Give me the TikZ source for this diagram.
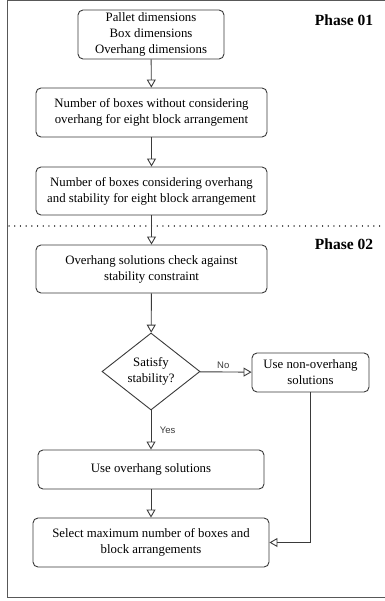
\documentclass[tikz,border=0pt]{standalone}
\usepackage{fontspec}
\setmainfont{Liberation Serif}
\newfontfamily\lblfont{Liberation Sans}
\usetikzlibrary{arrows.meta,shapes.geometric}
\definecolor{ln}{HTML}{3A3A3A}
\tikzset{
  pbox/.style={draw=ln, line width=0.9pt, rounded corners=5pt, fill=white, align=center, inner sep=0pt, font=\fontsize{12.8}{16}\selectfont},
  decis/.style={draw=ln, line width=0.9pt, diamond, aspect=1.27, inner sep=0pt, align=center, fill=white, font=\fontsize{12.8}{16}\selectfont},
  conn/.style={draw=ln, line width=0.9pt, -{Triangle[open, length=8pt, width=9pt]}},
  phase/.style={font=\fontsize{15.5}{17}\selectfont\bfseries},
  yn/.style={font=\lblfont\fontsize{9.5}{11}\selectfont, text=ln}
}
\begin{document}
\begin{tikzpicture}[x=1pt,y=-1pt]
\useasboundingbox (0,0) rectangle (384,601);
\draw[draw=ln!85, line width=1pt] (7,1) rectangle (392,597);
\draw[ln, line width=1.3pt, dash pattern=on 0.1pt off 5.6pt, line cap=round] (9,226) -- (384,226);
\node[phase] (p1) at (344,20) {Phase 01};
\node[phase] (p2) at (344,244) {Phase 02};
\node[pbox, minimum width=146pt, minimum height=49pt] (b1) at (151,34.5) {Pallet dimensions\\Box dimensions\\Overhang dimensions};
\node[pbox, minimum width=231pt, minimum height=49pt] (b2) at (151.5,112.5) {Number of boxes without considering\\overhang for eight block arrangement};
\node[pbox, minimum width=231pt, minimum height=48pt] (b3) at (151.5,191) {Number of boxes considering overhang\\and stability for eight block arrangement};
\node[pbox, minimum width=231pt, minimum height=48pt] (b4) at (151.5,269) {Overhang solutions check against\\stability constraint};
\node[decis, minimum width=98pt, minimum height=77pt] (d) at (151,371.5) {Satisfy\\stability?};
\node[pbox, minimum width=117pt, minimum height=39pt] (b5) at (310.5,372.5) {Use non-overhang\\solutions};
\node[pbox, minimum width=226pt, minimum height=39pt] (b6) at (151,469.5) {Use overhang solutions};
\node[pbox, minimum width=236pt, minimum height=49pt] (b7) at (151,542.5) {Select maximum number of boxes and\\block arrangements};
\coordinate (c1) at (b5.south |- b7.east);
\draw[conn] (b1) -- (b2);
\draw[conn] (b2) -- (b3);
\draw[conn] (b3) -- (b4);
\draw[conn] (b4) -- (d);
\draw[conn] (d) -- node[yn, above, pos=0.45] {No} (b5);
\draw[conn] (d) -- node[yn, right, pos=0.5, xshift=5pt] {Yes} (b6);
\draw[conn] (b6) -- (b7);
\draw[conn] (b5.south) -- (c1) -- (b7.east);
\end{tikzpicture}
\end{document}
